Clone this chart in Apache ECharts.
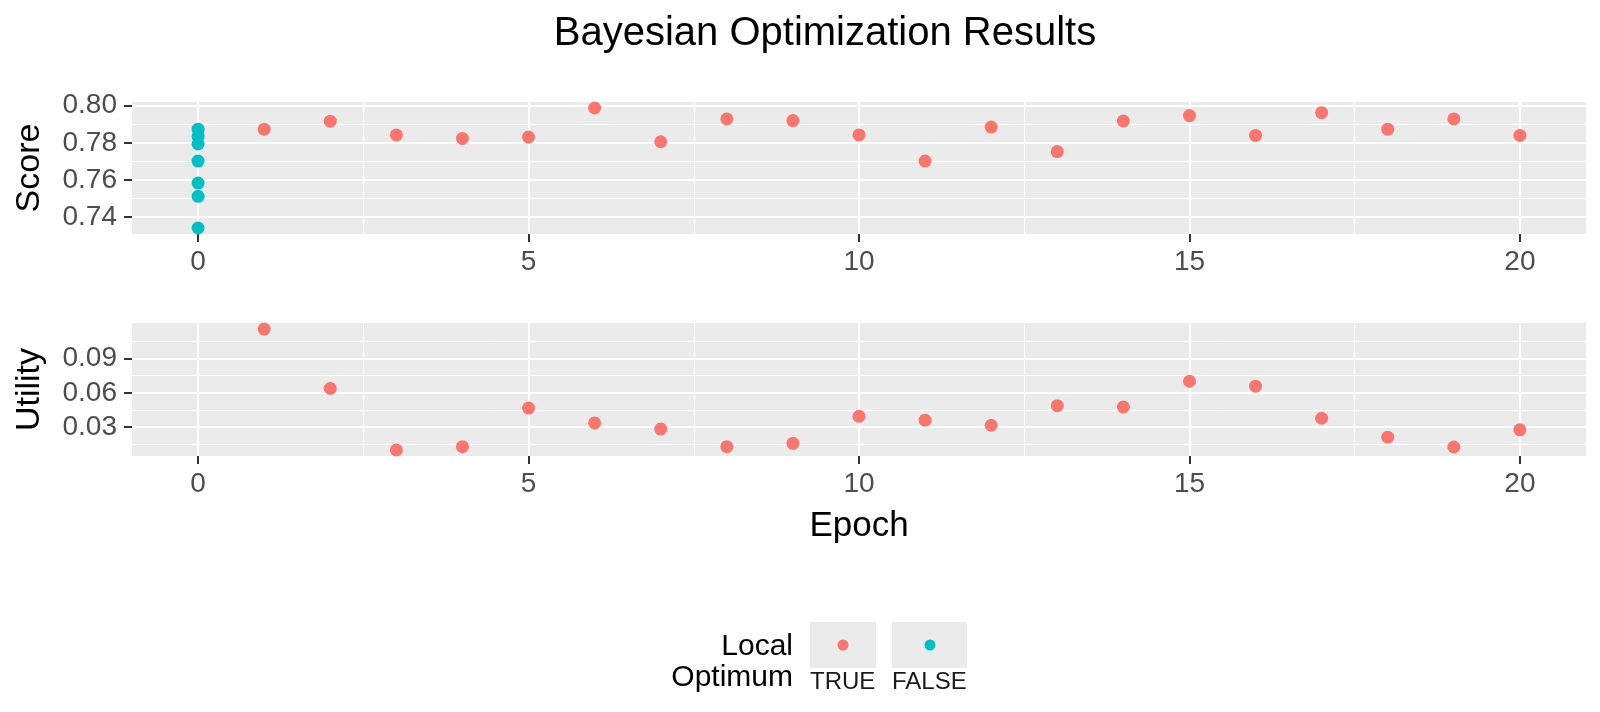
<!DOCTYPE html>
<html>
<head>
<meta charset="utf-8">
<script src="https://cdn.jsdelivr.net/npm/echarts@6/dist/echarts.min.js"></script>
<style>
html, body { margin: 0; padding: 0; background: #fff; }
#container { width: 1600px; height: 712px; }
</style>
</head>
<body>
<div id="container"></div>
<script>
// initial random design points (not local optima), all at epoch 0
var initEpochs = [0, 0, 0, 0, 0, 0, 0];
var initScores = [0.7874, 0.7835, 0.7794, 0.7702, 0.7583, 0.7512, 0.7341];

// optimisation epochs (local optimum = TRUE)
var boEpochs = [1, 2, 3, 4, 5, 6, 7, 8, 9, 10, 11, 12, 13, 14, 15, 16, 17, 18, 19, 20];
var boScores = [0.7874, 0.7917, 0.7843, 0.7824, 0.7831, 0.7988, 0.7806, 0.7929, 0.7920, 0.7843,
                0.7702, 0.7885, 0.7753, 0.7918, 0.7947, 0.7840, 0.7963, 0.7874, 0.7929, 0.7840];
var boUtility = [0.1157, 0.0638, 0.0101, 0.0130, 0.0467, 0.0337, 0.0283, 0.0130, 0.0159, 0.0395,
                 0.0361, 0.0317, 0.0488, 0.0476, 0.0701, 0.0658, 0.0378, 0.0213, 0.0127, 0.0277];

var epochTicks = [0, 5, 10, 15, 20];
var epochMinor = [2.5, 7.5, 12.5, 17.5];
var scoreTicks = [0.74, 0.76, 0.78, 0.80];
var scoreMinor = [0.75, 0.77, 0.79];
var utilityTicks = [0.03, 0.06, 0.09];
var utilityMinor = [0.015, 0.045, 0.075, 0.105];

var RED = '#F8766D';
var CYAN = '#00BFC4';
var FONT = 'Liberation Sans, Arial, sans-serif';

// ggplot style 5% padding on the data range
function expand(vals) {
  var lo = Math.min.apply(null, vals), hi = Math.max.apply(null, vals);
  var d = (hi - lo) * 0.05;
  return [lo - d, hi + d];
}
function zip(xs, ys) {
  return xs.map(function (x, i) { return [x, ys[i]]; });
}

var xRange = expand(initEpochs.concat(boEpochs));
var scoreRange = expand(initScores.concat(boScores));
var utilRange = expand(boUtility);

function majorX(grid, ticks, range) {
  return {
    gridIndex: grid, type: 'value', min: range[0], max: range[1], position: 'bottom',
    axisLine: { show: false, onZero: false },
    axisTick: { customValues: ticks, length: 8, lineStyle: { color: '#333', width: 2 } },
    axisLabel: { customValues: ticks, fontSize: 28, color: '#4D4D4D', margin: 14, fontFamily: FONT },
    splitLine: { show: true, lineStyle: { color: '#fff', width: 2 } }
  };
}
function minorX(grid, ticks, range) {
  return {
    gridIndex: grid, type: 'value', min: range[0], max: range[1], position: 'top',
    axisLine: { show: false, onZero: false },
    axisTick: { show: false, customValues: ticks },
    axisLabel: { show: false },
    splitLine: { show: true, lineStyle: { color: '#fff', width: 1 } }
  };
}
function majorY(grid, ticks, range, name) {
  return {
    gridIndex: grid, type: 'value', min: range[0], max: range[1], position: 'left',
    name: name, nameLocation: 'middle', nameGap: 85,
    nameTextStyle: { fontSize: 34, color: '#000', fontFamily: FONT },
    axisLine: { show: false, onZero: false },
    axisTick: { customValues: ticks, length: 8, lineStyle: { color: '#333', width: 2 } },
    axisLabel: {
      customValues: ticks, fontSize: 28, color: '#4D4D4D', margin: 15, fontFamily: FONT,
      formatter: function (v) { return v.toFixed(2); }
    },
    splitLine: { show: true, lineStyle: { color: '#fff', width: 2 } }
  };
}
function minorY(grid, ticks, range) {
  return {
    gridIndex: grid, type: 'value', min: range[0], max: range[1], position: 'right',
    axisLine: { show: false, onZero: false },
    axisTick: { show: false, customValues: ticks },
    axisLabel: { show: false },
    splitLine: { show: true, lineStyle: { color: '#fff', width: 1 } }
  };
}

var dom = document.getElementById('container');
var myChart = echarts.init(dom);

var option = {
  backgroundColor: '#fff',
  animation: false,
  title: {
    text: 'Bayesian Optimization Results',
    left: 820, top: 9, textAlign: 'center',
    textStyle: { fontSize: 40, fontWeight: 'normal', color: '#000', fontFamily: FONT }
  },
  grid: [
    { left: 132, right: 14, top: 102, height: 132, show: true, backgroundColor: '#EBEBEB', borderWidth: 0 },
    { left: 132, right: 14, top: 323, height: 133, show: true, backgroundColor: '#EBEBEB', borderWidth: 0 }
  ],
  xAxis: [
    minorX(0, epochMinor, xRange),
    majorX(0, epochTicks, xRange),
    minorX(1, epochMinor, xRange),
    Object.assign(majorX(1, epochTicks, xRange), {
      name: 'Epoch', nameLocation: 'middle', nameGap: 53,
      nameTextStyle: { fontSize: 35, color: '#000', fontFamily: FONT }
    })
  ],
  yAxis: [
    minorY(0, scoreMinor, scoreRange),
    majorY(0, scoreTicks, scoreRange, 'Score'),
    minorY(1, utilityMinor, utilRange),
    majorY(1, utilityTicks, utilRange, 'Utility')
  ],
  series: [
    {
      name: 'TRUE', type: 'scatter', xAxisIndex: 1, yAxisIndex: 1,
      symbolSize: 13, itemStyle: { color: RED, opacity: 1 },
      data: zip(boEpochs, boScores)
    },
    {
      name: 'FALSE', type: 'scatter', xAxisIndex: 1, yAxisIndex: 1,
      symbolSize: 13, itemStyle: { color: CYAN, opacity: 1 },
      data: zip(initEpochs, initScores)
    },
    {
      name: 'TRUE', type: 'scatter', xAxisIndex: 3, yAxisIndex: 3,
      symbolSize: 13, itemStyle: { color: RED, opacity: 1 },
      data: zip(boEpochs, boUtility)
    }
  ],
  graphic: [
    { type: 'text', x: 793, y: 647, style: { text: 'Local', align: 'right', verticalAlign: 'middle', font: '30px ' + FONT, fill: '#000' } },
    { type: 'text', x: 793, y: 678, style: { text: 'Optimum', align: 'right', verticalAlign: 'middle', font: '30px ' + FONT, fill: '#000' } },
    { type: 'rect', shape: { x: 810, y: 622, width: 66, height: 46 }, style: { fill: '#EBEBEB' } },
    { type: 'rect', shape: { x: 892, y: 622, width: 75, height: 46 }, style: { fill: '#EBEBEB' } },
    { type: 'circle', shape: { cx: 843, cy: 645, r: 5.5 }, style: { fill: RED } },
    { type: 'circle', shape: { cx: 930, cy: 645, r: 5.5 }, style: { fill: CYAN } },
    { type: 'text', x: 810, y: 682, style: { text: 'TRUE', align: 'left', verticalAlign: 'middle', font: '24px ' + FONT, fill: '#1a1a1a' } },
    { type: 'text', x: 892, y: 682, style: { text: 'FALSE', align: 'left', verticalAlign: 'middle', font: '24px ' + FONT, fill: '#1a1a1a' } }
  ]
};

if (option && typeof option === 'object') {
  myChart.setOption(option);
}
</script>
</body>
</html>
